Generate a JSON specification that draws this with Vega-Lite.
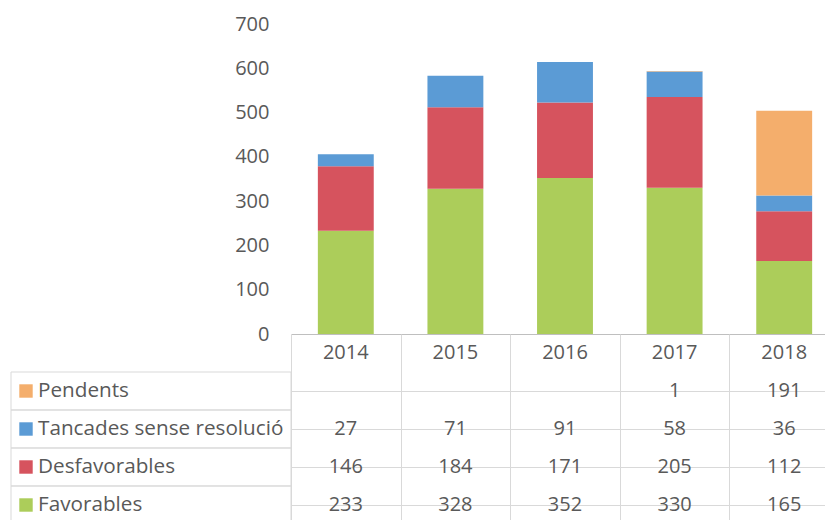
{
  "$schema": "https://vega.github.io/schema/vega-lite/v6.json",
  "padding": {"left": 10, "top": 14, "right": 0, "bottom": 0},
  "background": "white",
  "config": {
    "view": {"stroke": null},
    "font": "Open Sans",
    "axis": {"labelFont": "Open Sans", "labelFontSize": 20, "labelColor": "#595959"},
    "text": {"font": "Open Sans", "fontSize": 20, "color": "#595959"}
  },
  "datasets": {
    "vals": [
      {"year": "2014", "series": "Favorables", "value": 233},
      {"year": "2014", "series": "Desfavorables", "value": 146},
      {"year": "2014", "series": "Tancades sense resolució", "value": 27},
      {"year": "2015", "series": "Favorables", "value": 328},
      {"year": "2015", "series": "Desfavorables", "value": 184},
      {"year": "2015", "series": "Tancades sense resolució", "value": 71},
      {"year": "2016", "series": "Favorables", "value": 352},
      {"year": "2016", "series": "Desfavorables", "value": 171},
      {"year": "2016", "series": "Tancades sense resolució", "value": 91},
      {"year": "2017", "series": "Favorables", "value": 330},
      {"year": "2017", "series": "Desfavorables", "value": 205},
      {"year": "2017", "series": "Tancades sense resolució", "value": 58},
      {"year": "2017", "series": "Pendents", "value": 1},
      {"year": "2018", "series": "Favorables", "value": 165},
      {"year": "2018", "series": "Desfavorables", "value": 112},
      {"year": "2018", "series": "Tancades sense resolució", "value": 36},
      {"year": "2018", "series": "Pendents", "value": 191}
    ],
    "series": [
      {"series": "Pendents"},
      {"series": "Tancades sense resolució"},
      {"series": "Desfavorables"},
      {"series": "Favorables"}
    ]
  },
  "bounds": "flush",
  "spacing": 0,
  "columns": 2,
  "resolve": {"scale": {"x": "independent", "y": "independent", "color": "shared"}},
  "concat": [
    {
      "width": 280,
      "height": 310,
      "data": {"values": [{}]},
      "mark": {"type": "text", "text": ""}
    },
    {
      "width": 548,
      "height": 310,
      "data": {"name": "vals"},
      "transform": [
        {"calculate": "indexof(['Favorables', 'Desfavorables', 'Tancades sense resolució', 'Pendents'], datum.series)", "as": "stackOrder"}
      ],
      "mark": {"type": "bar"},
      "encoding": {
        "x": {
          "field": "year", "type": "nominal",
          "scale": {"paddingInner": 0.49, "paddingOuter": 0.245},
          "axis": {"title": null, "domainColor": "#bfbfbf", "domainWidth": 1, "ticks": false, "labelPadding": 18, "labelBaseline": "middle", "labelAngle": 0}
        },
        "y": {
          "field": "value", "type": "quantitative", "stack": "zero",
          "scale": {"domain": [0, 700]},
          "axis": {"title": null, "values": [0, 100, 200, 300, 400, 500, 600, 700], "grid": false, "domain": false, "ticks": false, "labelPadding": 22}
        },
        "color": {
          "field": "series", "type": "nominal",
          "scale": {"domain": ["Favorables", "Desfavorables", "Tancades sense resolució", "Pendents"], "range": ["#ACCD5A", "#D6535E", "#5B9BD5", "#F4AE6C"]},
          "legend": null
        },
        "order": {"field": "stackOrder", "type": "quantitative", "sort": "ascending"}
      }
    },
    {
      "width": 280,
      "height": 190,
      "data": {"name": "series"},
      "encoding": {
        "y": {
          "field": "series", "type": "nominal",
          "scale": {"domain": ["header", "Pendents", "Tancades sense resolució", "Desfavorables", "Favorables"], "paddingInner": 0, "paddingOuter": 0},
          "axis": null
        }
      },
      "layer": [
        {"mark": {"type": "rect", "fill": "transparent", "stroke": "#d9d9d9", "strokeWidth": 1}},
        {
          "mark": {"type": "point", "shape": "square", "filled": true, "size": 180, "opacity": 1},
          "encoding": {
            "x": {"value": 15},
            "color": {"field": "series", "type": "nominal", "legend": null}
          }
        },
        {
          "mark": {"type": "text", "align": "left", "baseline": "middle", "fontSize": 20.7},
          "encoding": {"x": {"value": 27}, "text": {"field": "series"}}
        }
      ]
    },
    {
      "width": 548,
      "height": 190,
      "data": {"name": "vals"},
      "mark": {"type": "text", "baseline": "middle"},
      "encoding": {
        "x": {
          "field": "year", "type": "nominal",
          "scale": {"paddingInner": 0, "paddingOuter": 0},
          "axis": {"title": null, "labels": false, "ticks": false, "domain": false, "grid": true, "gridColor": "#d9d9d9", "tickBand": "extent"}
        },
        "y": {
          "field": "series", "type": "nominal",
          "scale": {"domain": ["header", "Pendents", "Tancades sense resolució", "Desfavorables", "Favorables"], "paddingInner": 0, "paddingOuter": 0},
          "axis": {"title": null, "labels": false, "ticks": false, "domain": false, "grid": true, "gridColor": "#d9d9d9", "bandPosition": 0, "values": ["Pendents", "Tancades sense resolució", "Desfavorables", "Favorables"]}
        },
        "text": {"field": "value", "type": "quantitative"}
      }
    }
  ]
}
